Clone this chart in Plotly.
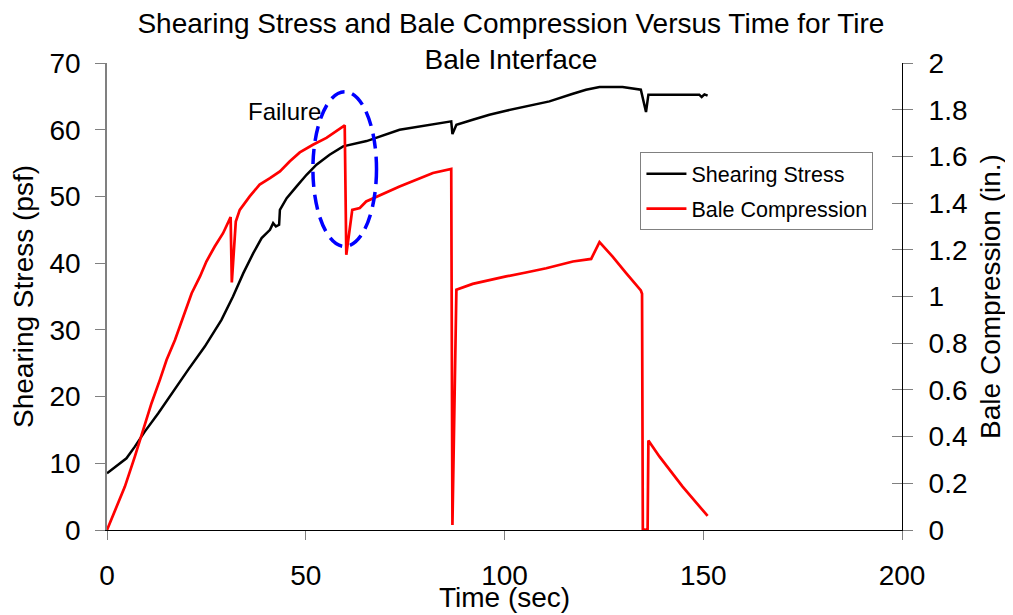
import plotly.graph_objects as go

# ---- data ----
stress_time = [0, 2.8, 4.9, 7.0, 9.5, 12.9, 16.3, 20.4, 24.6, 28.8, 31.7, 34.3, 36.8, 38.9, 41.0,
               41.8, 42.5, 43.3, 43.5, 45.2, 47.7, 50.2, 52.7, 56.0, 59.4, 63.6, 65.3, 73.6,
               83.7, 86.6, 86.9, 87.9, 92.0, 96.2, 100.4, 105.4, 111.3, 117.2, 120.5, 123.9,
               129.7, 134.3, 135.6, 136.2, 149.0, 149.6, 150.3, 151.1]
stress_psf = [8.5, 9.75, 10.75, 12.5, 14.75, 17.5, 20.5, 24.0, 27.5, 31.5, 35.0, 38.5, 41.5, 43.75,
              45.0, 46.0, 45.5, 45.75, 48.0, 49.75, 51.5, 53.25, 54.75, 56.25, 57.5, 58.0, 58.3,
              60.0, 61.0, 61.25, 59.35, 60.75, 61.5, 62.25, 62.85, 63.5, 64.25, 65.4, 66.0, 66.4,
              66.4, 66.0, 62.65, 65.25, 65.25, 64.9, 65.3, 65.1]

comp_time = [0, 2.0, 4.5, 7.0, 9.1, 11.2, 13.3, 15.0, 17.1, 19.2, 21.3, 23.4, 25.0, 27.1, 29.2,
             31.1, 31.4, 32.4, 33.4, 35.9, 38.4, 41.0, 43.5, 46.0, 48.5, 51.8, 55.2, 59.8, 60.2,
             61.7, 63.6, 65.2, 73.6, 82.0, 86.6, 86.9, 87.9, 92.0, 96.2, 100.4, 105.4, 110.5,
             117.2, 121.8, 123.9, 127.2, 130.6, 132.7, 134.3, 134.6, 134.8, 136.0, 136.2, 139.0,
             144.8, 151.1]
comp_in = [0, 0.086, 0.186, 0.314, 0.429, 0.543, 0.643, 0.729, 0.814, 0.914, 1.014, 1.086, 1.15,
           1.214, 1.271, 1.34, 1.06, 1.321, 1.371, 1.429, 1.479, 1.507, 1.536, 1.579, 1.617, 1.65,
           1.679, 1.733, 1.179, 1.371, 1.379, 1.407, 1.471, 1.529, 1.546, 0.021, 1.029, 1.054,
           1.071, 1.086, 1.103, 1.121, 1.15, 1.161, 1.233, 1.171, 1.1, 1.057, 1.026, 1.012,
           0.003, 0.0, 0.383, 0.314, 0.186, 0.06]

x_ticks = [0, 50, 100, 150, 200]
left_ticks = [0, 10, 20, 30, 40, 50, 60, 70]
right_ticks = [0, 0.2, 0.4, 0.6, 0.8, 1, 1.2, 1.4, 1.6, 1.8, 2]

FONT = "Liberation Sans, Arial, sans-serif"

fig = go.Figure()
fig.add_trace(go.Scatter(x=stress_time, y=stress_psf, mode="lines", name="Shearing Stress",
                         line=dict(color="black", width=2.5), legendgroup="a"))
fig.add_trace(go.Scatter(x=comp_time, y=comp_in, mode="lines", name="Bale Compression",
                         line=dict(color="#FF0000", width=2.7), yaxis="y2", legendgroup="b"))
# helper axis for the crossing ticks on the right axis
fig.add_trace(go.Scatter(x=[], y=[], yaxis="y3", showlegend=False, hoverinfo="skip"))

fig.add_shape(type="circle", xref="x", yref="y", x0=51.8, x1=67.8, y0=42.5, y1=65.7,
              line=dict(color="#0000FF", width=3.5, dash="15px,8px"))
fig.add_annotation(x=44.7, y=62.7, xref="x", yref="y", text="Failure", showarrow=False,
                   font=dict(size=24, color="black", family=FONT))
# x-axis title
fig.add_annotation(x=0.5006, y=-0.1456, xref="paper", yref="paper", text="Time (sec)",
                   showarrow=False, xanchor="center", yanchor="middle",
                   font=dict(size=28, color="black", family=FONT))

fig.update_layout(
    width=1013, height=615,
    paper_bgcolor="white", plot_bgcolor="white",
    margin=dict(l=99, r=119, t=55, b=93, autoexpand=False),
    font=dict(family=FONT, size=28, color="black"),
    title=dict(text="Shearing Stress and Bale Compression Versus Time for Tire<br>Bale Interface",
               x=0.4965, xanchor="center", y=0.9594, yanchor="top",
               font=dict(size=28, family=FONT, color="black")),
    xaxis=dict(range=[0, 200], tickvals=x_ticks, showgrid=False, zeroline=False,
               showline=True, linecolor="black", linewidth=1, automargin=False,
               ticks="outside", ticklen=9, tickcolor="#808080",
               ticklabelstandoff=11),
    yaxis=dict(range=[0, 70], tickvals=left_ticks, showgrid=False, zeroline=False,
               showline=True, linecolor="#808080", linewidth=1.5, automargin=False,
               ticks="outside", ticklen=10, tickcolor="#808080",
               ticklabelstandoff=9,
               title=dict(text="Shearing Stress (psf)", standoff=9, font=dict(size=28))),
    yaxis2=dict(range=[0, 2], tickvals=right_ticks, overlaying="y", side="right", anchor="x",
                showgrid=False, zeroline=False, showline=True, linecolor="black", linewidth=1,
                automargin=False,
                ticks="outside", ticklen=10, tickcolor="#808080", ticklabelstandoff=10,
                title=dict(text="Bale Compression (in.)", standoff=13, font=dict(size=28))),
    yaxis3=dict(range=[0, 2], tickvals=right_ticks, overlaying="y", side="right", anchor="x",
                showgrid=False, zeroline=False, showline=False, showticklabels=False,
                automargin=False,
                ticks="inside", ticklen=10, tickcolor="#808080"),
    legend=dict(x=0.671, y=0.809, xanchor="left", yanchor="top",
                bordercolor="#808080", borderwidth=1, bgcolor="white",
                font=dict(size=21.5, family=FONT, color="black"),
                traceorder="grouped", tracegroupgap=4, itemwidth=40),
    showlegend=True,
)

fig.write_html("out.html")
